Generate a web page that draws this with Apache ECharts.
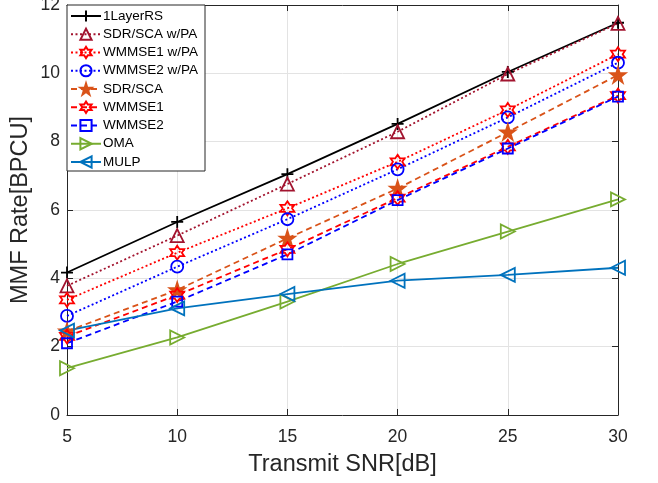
<!DOCTYPE html>
<html><head><meta charset="utf-8">
<script src="https://cdn.jsdelivr.net/npm/echarts@6/dist/echarts.min.js"></script>
<style>html,body{margin:0;padding:0;background:#fff}#c{width:658px;height:483px}</style>
</head><body><div id="c"></div>
<script>
const snr = [5, 10, 15, 20, 25, 30];
const layerRS   = [4.17, 5.65, 7.05, 8.52, 10.04, 11.48];
const sdrPA     = [3.78, 5.25, 6.76, 8.29, 9.98, 11.46];
const wmmse1PA  = [3.37, 4.75, 6.05, 7.41, 8.93, 10.56];
const wmmse2PA  = [2.90, 4.34, 5.73, 7.19, 8.71, 10.31];
const sdr       = [2.45, 3.66, 5.17, 6.63, 8.28, 9.95];
const wmmse1    = [2.30, 3.51, 4.85, 6.35, 7.85, 9.35];
const wmmse2    = [2.10, 3.32, 4.70, 6.29, 7.80, 9.32];
const oma       = [1.37, 2.27, 3.32, 4.42, 5.37, 6.31];
const mulp      = [2.47, 3.12, 3.54, 3.93, 4.10, 4.31];
const xTicks = [5, 10, 15, 20, 25, 30];
const yTicks = [0, 2, 4, 6, 8, 10, 12];

const hexagram = 'path://M0,-100 L28.9,-50 L86.6,-50 L57.7,0 L86.6,50 L28.9,50 L0,100 L-28.9,50 L-86.6,50 L-57.7,0 L-86.6,-50 L-28.9,-50 Z';
const pentagram = 'path://M0,-100 L22.45,-30.9 L95.1,-30.9 L36.3,11.8 L58.8,80.9 L0,38.2 L-58.8,80.9 L-36.3,11.8 L-95.1,-30.9 L-22.45,-30.9 Z';

function mk(name, data, color, lineType, symbol, size, rotate) {
  return {
    name, type: 'line', data: snr.map((x, i) => [x, data[i]]),
    symbol, symbolSize: size, symbolRotate: rotate || 0,
    lineStyle: { color, width: 1.8, type: lineType },
    itemStyle: { color: 'rgba(255,255,255,0)', borderColor: color, borderWidth: 1.8 },
    emphasis: { disabled: true }, z: 3
  };
}
const DOT = [2, 2.5], DASH = [6, 4];
const series = [
  mk('1LayerRS', layerRS, '#000000', 'solid', 'path://M0,-100 L0,100 M-100,0 L100,0', 12),
  mk('SDR/SCA w/PA', sdrPA, '#A2142F', DOT, 'triangle', 13),
  mk('WMMSE1 w/PA', wmmse1PA, '#FF0000', DOT, hexagram, 14),
  mk('WMMSE2 w/PA', wmmse2PA, '#0000FF', DOT, 'circle', 12),
  mk('SDR/SCA', sdr, '#D95319', DASH, pentagram, 15),
  mk('WMMSE1', wmmse1, '#FF0000', DASH, hexagram, 14),
  mk('WMMSE2', wmmse2, '#0000FF', DASH, 'rect', 10),
  mk('OMA', oma, '#77AC30', 'solid', 'triangle', 14, -90),
  mk('MULP', mulp, '#0072BD', 'solid', 'triangle', 14, 90)
];
series[4].itemStyle.color = '#D95319';

const font = 'Liberation Sans, Arial, sans-serif';
const chart = echarts.init(document.getElementById('c'), null, { renderer: 'canvas' });
chart.setOption({
  animation: false,
  backgroundColor: '#fff',
  grid: { left: 67, right: 40, top: 5, bottom: 68, show: false, containLabel: false, outerBoundsMode: 'none' },
  legend: {
    orient: 'vertical', left: 67, top: 5, padding: [4, 7, 2, 3],
    backgroundColor: '#fff', borderColor: '#262626', borderWidth: 1, borderRadius: 0,
    itemWidth: 30, itemHeight: 14, itemGap: 4.25,
    textStyle: { fontFamily: font, fontSize: 13.5, lineHeight: 14, color: '#000', padding: [0, 0, 0, -3] },
    data: series.map(s => s.name)
  },
  xAxis: [{
    type: 'value', min: 5, max: 30, interval: 5, position: 'bottom',
    name: 'Transmit SNR[dB]', nameLocation: 'middle', nameGap: 38,
    nameTextStyle: { fontFamily: font, fontSize: 23.5, color: '#262626' },
    axisLine: { show: true, lineStyle: { color: '#262626', width: 1 } },
    axisTick: { show: true, inside: true, length: 6, lineStyle: { color: '#262626' } },
    axisLabel: { fontFamily: font, fontSize: 17.5, color: '#262626', margin: 13 },
    splitLine: { show: true, lineStyle: { color: '#e3e3e3', width: 1 } }
  }, {
    type: 'value', min: 5, max: 30, interval: 5, position: 'top',
    axisLine: { show: true, onZero: false, lineStyle: { color: '#262626', width: 1 } },
    axisTick: { show: true, inside: true, length: 6, lineStyle: { color: '#262626' } },
    axisLabel: { show: false }, splitLine: { show: false }
  }],
  yAxis: [{
    type: 'value', min: 0, max: 12, interval: 2, position: 'left',
    name: 'MMF Rate[BPCU]', nameLocation: 'middle', nameGap: 34, nameMoveOverlap: false,
    nameTextStyle: { fontFamily: font, fontSize: 23.5, color: '#262626' },
    axisLine: { show: true, lineStyle: { color: '#262626', width: 1 } },
    axisTick: { show: true, inside: true, length: 6, lineStyle: { color: '#262626' } },
    axisLabel: { fontFamily: font, fontSize: 17.5, color: '#262626', margin: 7 },
    splitLine: { show: true, lineStyle: { color: '#e3e3e3', width: 1 } }
  }, {
    type: 'value', min: 0, max: 12, interval: 2, position: 'right',
    axisLine: { show: true, onZero: false, lineStyle: { color: '#262626', width: 1 } },
    axisTick: { show: true, inside: true, length: 6, lineStyle: { color: '#262626' } },
    axisLabel: { show: false }, splitLine: { show: false }
  }],
  series
});
</script></body></html>
